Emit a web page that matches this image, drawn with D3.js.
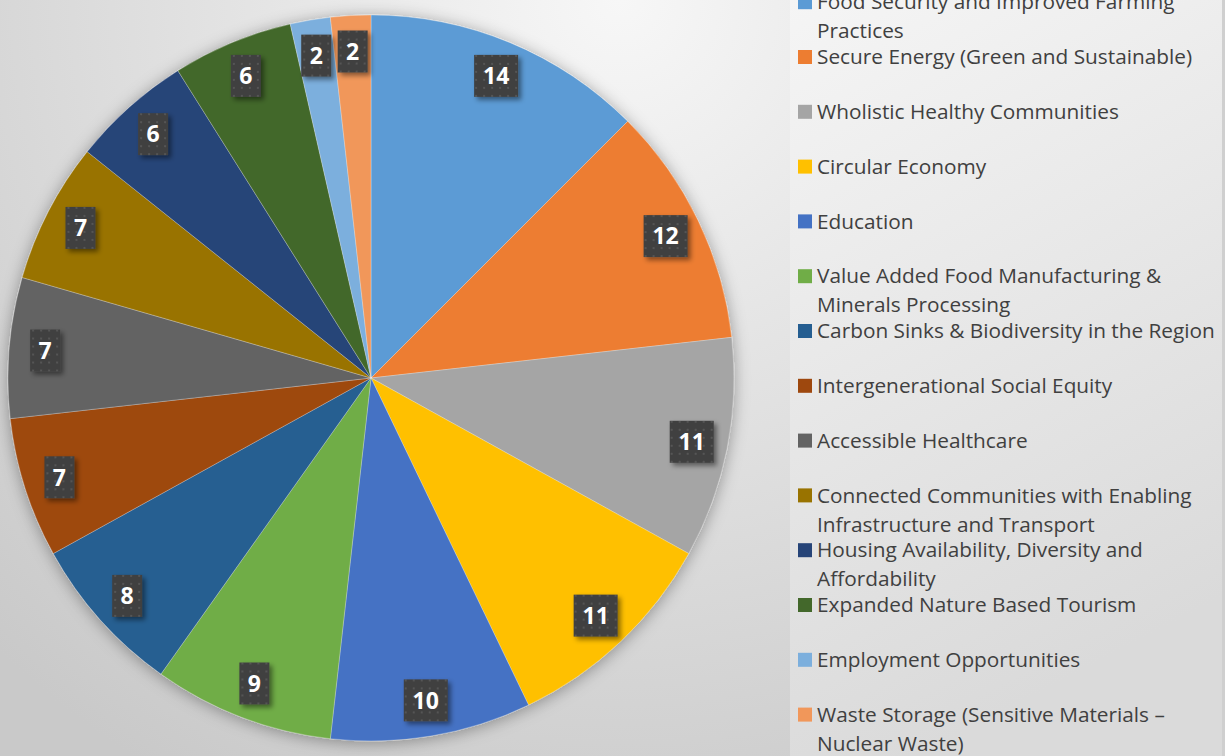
<!DOCTYPE html>
<html>
<head>
<meta charset="utf-8">
<script src="https://cdn.jsdelivr.net/npm/d3@7"></script>
<style>
  html, body { margin: 0; padding: 0; }
  body { width: 1225px; height: 756px; overflow: hidden; }
  svg { display: block; font-family: "Open Sans", sans-serif; }
</style>
</head>
<body>
<div id="chart"></div>
<script>
// categories and values
const categories = [
  "Food Security and Improved Farming Practices",
  "Secure Energy (Green and Sustainable)",
  "Wholistic Healthy Communities",
  "Circular Economy",
  "Education",
  "Value Added Food Manufacturing & Minerals Processing",
  "Carbon Sinks & Biodiversity in the Region",
  "Intergenerational Social Equity",
  "Accessible Healthcare",
  "Connected Communities with Enabling Infrastructure and Transport",
  "Housing Availability, Diversity and Affordability",
  "Expanded Nature Based Tourism",
  "Employment Opportunities",
  "Waste Storage (Sensitive Materials \u2013 Nuclear Waste)"
];
const values = [14, 12, 11, 11, 10, 9, 8, 7, 7, 7, 6, 6, 2, 2];
const colors = ["#5B9BD5", "#ED7D31", "#A5A5A5", "#FFC000", "#4472C4", "#70AD47",
  "#255E91", "#9E480E", "#636363", "#997300", "#264478", "#43682B", "#7CAFDD", "#F1975A"];

const W = 1225, H = 756;
const cx = 371, cy = 378, radius = 363;

const svg = d3.select("#chart").append("svg")
  .attr("width", W)
  .attr("height", H);

const defs = svg.append("defs");

// page background
const bg = defs.append("radialGradient")
  .attr("id", "bg")
  .attr("gradientUnits", "userSpaceOnUse")
  .attr("cx", 620).attr("cy", 0).attr("r", 900);
bg.append("stop").attr("offset", "0%").attr("stop-color", "#f7f7f7");
bg.append("stop").attr("offset", "100%").attr("stop-color", "#c9c9c9");

const lg = defs.append("linearGradient")
  .attr("id", "legbg")
  .attr("x1", 0).attr("y1", 0).attr("x2", 0.3).attr("y2", 1);
lg.append("stop").attr("offset", "0%").attr("stop-color", "#f5f5f5");
lg.append("stop").attr("offset", "100%").attr("stop-color", "#dadada");

const shadow = defs.append("filter")
  .attr("id", "pieShadow")
  .attr("x", "-20%").attr("y", "-20%").attr("width", "140%").attr("height", "140%");
shadow.append("feDropShadow")
  .attr("dx", 0).attr("dy", 2).attr("stdDeviation", 8)
  .attr("flood-color", "#000").attr("flood-opacity", 0.35);

const boxShadow = defs.append("filter")
  .attr("id", "boxShadow")
  .attr("x", "-30%").attr("y", "-30%").attr("width", "170%").attr("height", "170%");
boxShadow.append("feDropShadow")
  .attr("dx", 3).attr("dy", 3).attr("stdDeviation", 2.5)
  .attr("flood-color", "#000").attr("flood-opacity", 0.45);

const dots = defs.append("pattern")
  .attr("id", "dots")
  .attr("patternUnits", "userSpaceOnUse")
  .attr("width", 8).attr("height", 8);
dots.append("rect").attr("width", 8).attr("height", 8).attr("fill", "#404040");
dots.append("rect").attr("x", 3).attr("y", 3).attr("width", 2).attr("height", 2).attr("fill", "#555555");

svg.append("rect").attr("width", W).attr("height", H).attr("fill", "url(#bg)");
svg.append("rect")
  .attr("x", 790).attr("y", 0)
  .attr("width", 432).attr("height", H)
  .attr("fill", "url(#legbg)");
svg.append("rect")
  .attr("x", 1222).attr("y", 0)
  .attr("width", 3).attr("height", H)
  .attr("fill", "#cfcfcf");

// pie
const pie = d3.pie().sort(null).value(d => d.value);
const data = categories.map((c, i) => ({name: c, value: values[i], color: colors[i]}));
const arcs = pie(data);

const arc = d3.arc().innerRadius(0).outerRadius(radius);
const labelArc = d3.arc().innerRadius(327).outerRadius(327);

const g = svg.append("g").attr("transform", `translate(${cx},${cy})`);

g.append("g")
  .attr("filter", "url(#pieShadow)")
  .selectAll("path")
  .data(arcs)
  .enter()
  .append("path")
  .attr("d", arc)
  .attr("fill", d => d.data.color)
  .attr("stroke", "rgba(255,255,255,0.35)")
  .attr("stroke-width", 0.75);

// data labels
const lab = g.selectAll(".lab")
  .data(arcs)
  .enter()
  .append("g")
  .attr("class", "lab")
  .attr("transform", d => `translate(${labelArc.centroid(d)})`);

lab.append("rect")
  .attr("x", d => d.data.value >= 10 ? -22 : -15)
  .attr("y", -21)
  .attr("width", d => d.data.value >= 10 ? 44 : 30)
  .attr("height", 42)
  .attr("fill", "url(#dots)")
  .attr("filter", "url(#boxShadow)");

lab.append("text")
  .text(d => d.data.value)
  .attr("text-anchor", "middle")
  .attr("dy", "0.36em")
  .attr("fill", "#ffffff")
  .attr("font-size", 23)
  .attr("font-weight", "bold");

// legend
const legendX = 798, legendY0 = 2.2, step = 54.8, lineH = 29, maxW = 405;

const leg = svg.append("g");
const item = leg.selectAll(".item")
  .data(data)
  .enter()
  .append("g")
  .attr("class", "item")
  .attr("transform", (d, i) => `translate(${legendX},${legendY0 + i * step})`);

item.append("rect")
  .attr("x", 0).attr("y", -7)
  .attr("width", 14).attr("height", 14)
  .attr("fill", d => d.color);

item.append("text")
  .attr("x", 19)
  .attr("font-size", 20.8)
  .attr("fill", "#404040")
  .each(function(d) {
    const t = d3.select(this);
    const words = d.name.split(" ");
    let line = [], lineNo = 0;
    let ts = t.append("tspan").attr("x", 19).attr("y", 0).attr("dy", "0.35em");
    words.forEach(w => {
      line.push(w);
      ts.text(line.join(" "));
      if (ts.node().getComputedTextLength() > maxW && line.length > 1) {
        line.pop();
        ts.text(line.join(" "));
        line = [w];
        lineNo++;
        ts = t.append("tspan").attr("x", 19).attr("y", lineNo * lineH).attr("dy", "0.35em").text(w);
      }
    });
  });
</script>
</body>
</html>
